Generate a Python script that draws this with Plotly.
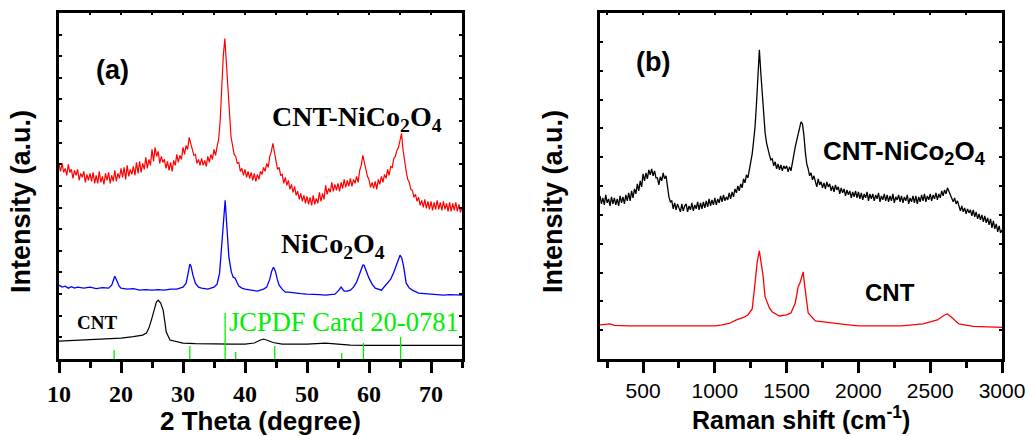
import numpy as np
import plotly.graph_objects as go

W, H = 1028, 436

# ---------------- Panel (a): XRD ----------------
# CNT-NiCo2O4 (red), sampled every 0.25 degree from 10 to 75
xrd_cnt_nico_x = np.arange(10, 75.001, 0.25)
xrd_cnt_nico_y = [
    195, 188, 196, 187,  191, 184, 195, 187,  190, 181, 189, 184,  190, 179, 186, 182,
    188, 177, 185, 179,  186, 178, 187, 176,  184, 176, 188, 177,  183, 175, 186, 179,
    187, 176, 184, 178,  189, 178, 186, 181,  191, 182, 192, 180,  194, 183, 190, 185,
    193, 184, 197, 186,  198, 187, 196, 190,  202, 191, 200, 194,  210, 198, 212, 203,
    208, 196, 203, 197,  200, 191, 198, 189,  197, 188, 199, 194,  205, 197, 204, 200,
    212, 205, 214, 210,  222, 216, 210, 204,  205, 196, 200, 194,  201, 194, 199, 193,
    203, 197, 205, 200,  210, 204, 213, 220,  239, 272, 304, 321,  296, 262, 236, 222,
    214, 205, 203, 196,  197, 188, 191, 184,  190, 182, 188, 181,  187, 179, 186, 178,
    185, 180, 188, 185,  192, 188, 196, 192,  203, 208, 216, 207,  201, 190, 192, 184,
    185, 176, 182, 174,  179, 170, 175, 167,  173, 164, 168, 160,  166, 158, 164, 156,
    163, 155, 162, 154,  164, 155, 161, 156,  167, 158, 166, 160,  174, 165, 171, 167,
    177, 168, 175, 169,  176, 168, 177, 171,  180, 172, 179, 173,  181, 173, 180, 176,
    183, 177, 189, 194,  204, 197, 192, 183,  180, 172, 177, 171,  178, 170, 180, 175,
    183, 177, 185, 181,  190, 184, 193, 192,  201, 203, 209, 212,  219, 226, 209, 197,
    188, 180, 177, 170,  169, 162, 165, 158,  162, 154, 159, 152,  160, 151, 158, 150,
    158, 149, 157, 150,  159, 150, 157, 149,  158, 150, 156, 148,  157, 148, 156, 149,
    157, 148, 155, 147,  152,
]

# NiCo2O4 (blue)
xrd_nico_x = [10, 10.5, 11, 11.5, 12, 12.5, 13, 14, 15, 16, 17, 18, 18.5, 18.8, 19.0, 19.3, 19.7,
              20, 21, 22, 23, 24, 25, 26, 27, 28, 29, 30, 30.5, 30.8, 31.1, 31.3, 31.6, 32, 32.5,
              33, 34, 35, 35.5, 35.9, 36.2, 36.5, 36.8, 37.1, 37.4, 37.8, 38.1, 38.4, 38.7, 39,
              39.5, 40, 41, 42, 43, 43.5, 44, 44.3, 44.6, 44.9, 45.2, 45.5, 46, 46.5, 47, 48, 49,
              50, 51, 52, 53, 54, 54.5, 55, 55.5, 56, 56.5, 57, 57.5, 58, 58.5, 59, 59.2, 59.5,
              60, 60.5, 61, 62, 63, 63.5, 64, 64.5, 64.8, 65.0, 65.3, 65.6, 66, 66.5, 67, 68,
              69, 70, 71, 72, 73, 74, 75]
xrd_nico_y = [74, 72, 73, 71, 72.5, 71, 72, 71, 72, 70.5, 71.5, 71, 74, 80, 83, 79, 73,
              71, 70, 70.5, 69, 69.5, 69, 69.5, 69, 70, 70, 72, 76, 85, 95, 93, 84, 76, 72,
              71, 70, 72, 75, 86, 109, 135, 159, 130, 102, 87, 82, 81, 77, 73,
              71, 70, 69, 68, 70, 72, 80, 88, 92, 88, 80, 74, 70, 67, 67, 66, 65.5,
              65, 65, 64.5, 64, 65, 65, 68, 72, 68, 68, 69, 72, 77, 86, 94, 94, 89,
              81, 75, 71, 69, 76, 80, 87, 96, 102, 104, 101, 92, 76, 71, 69, 66,
              65.5, 65, 64.5, 64, 64.5, 64, 64]

# CNT (black)
xrd_cnt_x = [10, 12, 14, 16, 18, 20, 22, 23, 23.5, 24.1, 24.5, 24.9, 25.4, 25.7, 26.0, 26.4,
             26.8, 27.3, 27.9, 28.5, 30, 32, 35, 38, 40, 41.5, 42.5, 43, 43.7, 44.5, 46, 48,
             50, 53, 55, 57, 60, 65, 70, 75]
xrd_cnt_y = [18, 18.5, 19, 19.5, 20, 21, 22.5, 23.5, 24, 26, 31, 39, 52, 57, 59, 56,
             49, 27, 19, 18, 16, 15.5, 15, 15, 15, 16, 19, 20, 18.5, 16.5, 15, 15,
             15, 16, 15, 14, 13.7, 13.7, 13.7, 13.7]

# JCPDF Card 20-0781 reference lines
jcpdf_pos = [18.9, 31.1, 36.8, 38.5, 44.8, 55.6, 59.1, 65.1]
jcpdf_height = [9, 13, 46, 7, 13, 6, 16, 22]

xrd_ticks = [10, 20, 30, 40, 50, 60, 70]

# ---------------- Panel (b): Raman ----------------
raman_x = np.arange(200, 3001, 10)
raman_cnt_nico_y = [
    163, 155, 161, 154, 164, 156, 160, 153, 162, 155,
    161, 154, 160, 153, 163, 156, 162, 155, 164, 158,
    166, 158, 168, 161, 170, 165, 175, 168, 178, 172,
    185, 178, 186, 180, 189, 184, 190, 183, 188, 181,
    181, 174, 182, 178, 186, 180, 183, 172, 162, 157,
    158, 150, 156, 149, 155, 151, 147, 155, 148, 153,
    155, 147, 153, 149, 156, 148, 154, 150, 157, 149,
    156, 150, 157, 151, 158, 152, 160, 153, 159, 154,
    161, 154, 160, 156, 163, 157, 164, 158, 162, 159,
    166, 160, 167, 162, 170, 166, 173, 168, 175, 171,
    180, 176, 184, 181, 189, 196, 205, 218, 232, 255,
    279, 309, 286, 262, 239, 226, 216, 209, 204, 199,
    200, 193, 197, 190, 195, 189, 194, 188, 193, 190,
    193, 187, 192, 188, 198, 204, 212, 219, 226, 232,
    237, 235, 224, 207, 195, 190, 183, 186, 179, 183,
    178, 172, 180, 174, 177, 171, 176, 170, 177, 172,
    175, 168, 173, 167, 174, 169, 172, 165, 171, 166,
    170, 163, 169, 164, 168, 161, 167, 162, 168, 161,
    167, 160, 166, 159, 165, 161, 167, 158, 165, 160,
    165, 158, 164, 160, 166, 157, 163, 159, 165, 158,
    164, 157, 163, 158, 165, 156, 162, 159, 164, 157,
    163, 156, 162, 158, 164, 155, 161, 157, 163, 156,
    163, 155, 162, 157, 164, 158, 165, 157, 163, 159,
    165, 158, 164, 160, 166, 159, 165, 161, 168, 163,
    169, 165, 171, 167, 164, 160, 157, 161, 155, 158,
    154, 148, 153, 147, 151, 145, 150, 146, 149, 143,
    149, 142, 147, 140, 145, 139, 144, 137, 143, 136,
    141, 134, 140, 131, 138, 130, 135, 127, 133, 126,
    129,
]

raman_cnt_x = [200, 270, 300, 400, 600, 800, 1000, 1050, 1100, 1150, 1200, 1230, 1260, 1280,
               1295, 1310, 1320, 1335, 1350, 1380, 1400, 1450, 1500, 1530, 1560, 1580, 1595,
               1605, 1615, 1625, 1635, 1650, 1700, 1800, 1900, 2000, 2300, 2450, 2550, 2600,
               2620, 2650, 2700, 2800, 3000]
raman_cnt_y = [34, 35, 33.5, 33, 33, 33, 33, 34, 35.5, 39, 41.5, 44, 50, 76,
               97, 108, 99, 84, 62, 51, 47, 43, 44, 46, 56, 72, 77,
               81, 87, 74, 60, 46, 38, 36, 34.5, 33, 33, 35, 39, 44,
               45, 41.5, 35, 32.5, 31.5]

raman_ticks = [500, 1000, 1500, 2000, 2500, 3000]

# ---------------- Figure ----------------
GREEN = "#00ee00"
fig = go.Figure()

fig.add_trace(go.Scatter(x=xrd_cnt_nico_x, y=xrd_cnt_nico_y, mode="lines",
                         line=dict(color="#ff0000", width=1.2), xaxis="x", yaxis="y"))
fig.add_trace(go.Scatter(x=xrd_nico_x, y=xrd_nico_y, mode="lines",
                         line=dict(color="#0000ff", width=1.3), xaxis="x", yaxis="y"))
fig.add_trace(go.Scatter(x=xrd_cnt_x, y=xrd_cnt_y, mode="lines",
                         line=dict(color="black", width=1.2), xaxis="x", yaxis="y"))

stick_x, stick_y = [], []
for p, h in zip(jcpdf_pos, jcpdf_height):
    stick_x += [p, p, None]
    stick_y += [0, h, None]
fig.add_trace(go.Scatter(x=stick_x, y=stick_y, mode="lines",
                         line=dict(color=GREEN, width=1.3), xaxis="x", yaxis="y"))

fig.add_trace(go.Scatter(x=raman_x, y=raman_cnt_nico_y, mode="lines",
                         line=dict(color="black", width=1.3), xaxis="x2", yaxis="y2"))
fig.add_trace(go.Scatter(x=raman_cnt_x, y=raman_cnt_y, mode="lines",
                         line=dict(color="#ff0000", width=1.3), xaxis="x2", yaxis="y2"))

# empty traces so the top (inner-tick) axes are drawn
fig.add_trace(go.Scatter(x=[], y=[], xaxis="x3", yaxis="y", showlegend=False))
fig.add_trace(go.Scatter(x=[], y=[], xaxis="x4", yaxis="y2", showlegend=False))

ydom = [(H - 359) / H, (H - 12.7) / H]
dom_a = [59 / W, 462 / W]
dom_b = [600 / W, 1002 / W]

common_x = dict(showgrid=False, zeroline=False, showline=True, linecolor="black",
                linewidth=2.5, ticks="outside", tickwidth=2.5, ticklen=11, tickcolor="black",
                automargin=False)
common_y = dict(showgrid=False, zeroline=False, showline=True, linecolor="black",
                linewidth=2.5, ticks="inside", tickwidth=1.5, ticklen=3, tickcolor="black",
                showticklabels=False, mirror="ticks", automargin=False)
top_x = dict(showgrid=False, zeroline=False, showline=True, linecolor="black",
             linewidth=2.5, ticks="inside", tickwidth=1.5, ticklen=3, tickcolor="black",
             showticklabels=False, side="top", automargin=False)

fig.update_layout(
    width=W, height=H, margin=dict(l=0, r=0, t=0, b=0, autoexpand=False),
    paper_bgcolor="white", plot_bgcolor="white", showlegend=False,
    xaxis=dict(domain=dom_a, anchor="y", range=[10, 75], tickvals=xrd_ticks,
               minor=dict(dtick=5, tick0=0, ticks="outside", ticklen=6, tickwidth=2.5,
                          tickcolor="black"),
               tickfont=dict(family="Liberation Serif", size=24, color="black", weight="bold"),
               **common_x),
    yaxis=dict(domain=ydom, anchor="x", range=[0, 347], tick0=0, dtick=21.67, **common_y),
    xaxis2=dict(domain=dom_b, anchor="y2", range=[200, 3000], tickvals=raman_ticks,
                minor=dict(dtick=250, tick0=0, ticks="outside", ticklen=6, tickwidth=2.5,
                           tickcolor="black"),
                tickfont=dict(family="Liberation Sans", size=21, color="black"),
                **common_x),
    yaxis2=dict(domain=ydom, anchor="x2", range=[0, 346], tick0=0, dtick=28.8, **common_y),
    xaxis3=dict(overlaying="x", anchor="y", range=[10, 75], tick0=0, dtick=5, **top_x),
    xaxis4=dict(overlaying="x2", anchor="y2", range=[200, 3000], tick0=0, dtick=250, **top_x),
)


def px(x, y):
    return x / W, 1 - y / H


def ann(text, x, y, family, size, color="black", xanchor="center", angle=0):
    X, Y = px(x, y)
    fig.add_annotation(text=text, x=X, y=Y, xref="paper", yref="paper", showarrow=False,
                       xanchor=xanchor, yanchor="middle", textangle=angle,
                       font=dict(family=family, size=size, color=color))


SANS = "Liberation Sans"
SERIF = "Liberation Serif"

ann("<b>(a)</b>", 112, 70, SANS, 27)
ann("<b>CNT-NiCo<sub>2</sub>O<sub>4</sub></b>", 270, 119, SERIF, 28, xanchor="left")
ann("<b>NiCo<sub>2</sub>O<sub>4</sub></b>", 279, 246, SERIF, 28, xanchor="left")
ann("<b>CNT</b>", 97, 322, SERIF, 19)
ann("JCPDF Card 20-0781", 227, 322, SERIF, 26.5, color=GREEN, xanchor="left")
ann("<b>Intensity (a.u.)</b>", 21, 202, SANS, 27, angle=-90)
ann("<b>2 Theta (degree)</b>", 260, 421, SANS, 26)

ann("<b>(b)</b>", 653, 62, SANS, 27)
ann("<b>CNT-NiCo<sub>2</sub>O<sub>4</sub></b>", 821, 152, SANS, 26, xanchor="left")
ann("<b>CNT</b>", 890, 292, SANS, 24)
ann("<b>Intensity (a.u.)</b>", 553, 202, SANS, 27, angle=-90)
ann("<b>Raman shift (cm<sup>-1</sup>)</b>", 801, 418, SANS, 25)

fig.write_html("out.html")
